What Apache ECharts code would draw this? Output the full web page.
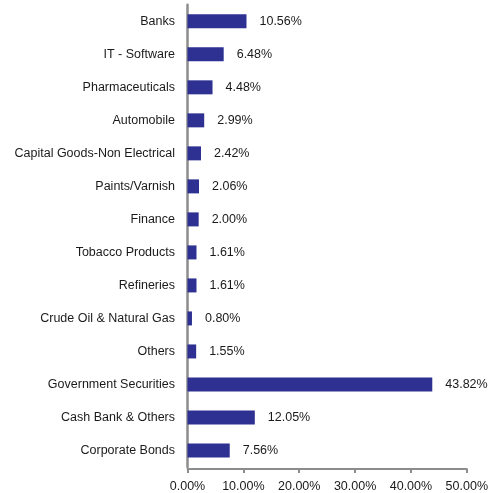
<!DOCTYPE html>
<html>
<head>
<meta charset="utf-8">
<style>
  html, body { margin: 0; padding: 0; background: #fff; }
  #chart { width: 491px; height: 493px; }
</style>
<script src="https://cdn.jsdelivr.net/npm/echarts@6/dist/echarts.min.js"></script>
</head>
<body>
<div id="chart"></div>
<script>
// Sector allocation, listed top to bottom
const categories = [
  'Banks', 'IT - Software', 'Pharmaceuticals', 'Automobile',
  'Capital Goods-Non Electrical', 'Paints/Varnish', 'Finance',
  'Tobacco Products', 'Refineries', 'Crude Oil & Natural Gas', 'Others',
  'Government Securities', 'Cash Bank & Others', 'Corporate Bonds'
];
const values = [10.56, 6.48, 4.48, 2.99, 2.42, 2.06, 2.00, 1.61, 1.61, 0.80, 1.55, 43.82, 12.05, 7.56];
const xTicks = [0, 10, 20, 30, 40, 50];

const chart = echarts.init(document.getElementById('chart'));
const textStyle = { fontFamily: '"Liberation Sans", Arial, sans-serif', fontSize: 12.5, color: '#1a1a1a' };
const axisColor = '#8c8c8c';

chart.setOption({
  animation: false,
  grid: { left: 187.5, right: 19, top: 4.8, bottom: 25.2, containLabel: false },
  xAxis: {
    type: 'value',
    min: xTicks[0],
    max: xTicks[xTicks.length - 1],
    interval: 10,
    offset: 2,
    axisLine: { show: true, lineStyle: { color: axisColor, width: 2 } },
    axisTick: { show: true, length: 4, lineStyle: { color: axisColor, width: 2 } },
    splitLine: { show: false },
    axisLabel: Object.assign({ margin: 11, formatter: v => v.toFixed(2) + '%' }, textStyle)
  },
  yAxis: {
    type: 'category',
    data: categories,
    inverse: true,
    axisLine: { show: true, lineStyle: { color: axisColor, width: 2.5 } },
    axisTick: { show: false },
    axisLabel: Object.assign({ margin: 12.5 }, textStyle)
  },
  series: [{
    type: 'bar',
    data: values,
    barWidth: 14,
    itemStyle: { color: '#2E3192' },
    label: Object.assign({
      show: true,
      position: 'right',
      distance: 13,
      formatter: p => p.value.toFixed(2) + '%'
    }, textStyle)
  }]
});
</script>
</body>
</html>
